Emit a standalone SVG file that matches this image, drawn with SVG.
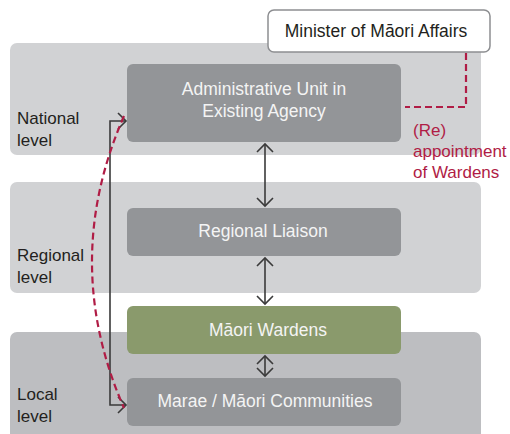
<svg xmlns="http://www.w3.org/2000/svg" width="510" height="434" viewBox="0 0 510 434">
<defs>
<style>
text{font-family:"Liberation Sans",Arial,sans-serif;font-size:17px}
.band{fill:#d1d2d4}
.band2{fill:#bdbec1}
.node{fill:#939598}
.green{fill:#8a9a6c}
.lbl{fill:#f4f4f4;text-anchor:middle;font-size:17.5px}
.lvl{fill:#231f20}
.red{fill:#b01c45}
.conn{fill:none;stroke:#3a3a3a;stroke-width:1.6}
.dash{fill:none;stroke:#b01c45;stroke-width:2.2;stroke-dasharray:7 4}
</style>
<marker id="ah" viewBox="-10 -10 20 20" refX="0" refY="0" markerWidth="20" markerHeight="20" markerUnits="userSpaceOnUse" orient="auto-start-reverse">
<path d="M-8,-8 L0,0 L-8,8" fill="none" stroke="#3a3a3a" stroke-width="1.6"/>
</marker>
</defs>
<g id="national-band"><rect class="band" x="10" y="43" width="471" height="112" rx="7"/><text class="lvl" x="17" y="124">National</text><text class="lvl" x="17" y="146">level</text></g>
<g id="regional-band"><rect class="band" x="10" y="182" width="471" height="111" rx="7"/><text class="lvl" x="17" y="261">Regional</text><text class="lvl" x="17" y="283">level</text></g>
<g id="local-band"><rect class="band2" x="10" y="332" width="471" height="110" rx="7"/><text class="lvl" x="17" y="400">Local</text><text class="lvl" x="17" y="422">level</text></g>
<g id="minister"><rect x="268" y="10" width="222" height="42" rx="6" fill="#fff" stroke="#8d8e91" stroke-width="1.5"/><text x="376" y="37" text-anchor="middle" fill="#231f20" style="font-size:17.5px">Minister of Māori Affairs</text></g>
<g id="admin"><rect class="node" x="127" y="64" width="274" height="78" rx="6"/><text class="lbl" x="264" y="95">Administrative Unit in</text><text class="lbl" x="264" y="117">Existing Agency</text></g>
<g id="regional-liaison"><rect class="node" x="127" y="208" width="274" height="48" rx="6"/><text class="lbl" x="263" y="237">Regional Liaison</text></g>
<g id="maori-wardens"><rect class="green" x="127" y="306" width="274" height="48" rx="6"/><text class="lbl" x="268" y="336">Māori Wardens</text></g>
<g id="marae"><rect class="node" x="127" y="378" width="274" height="48" rx="6"/><text class="lbl" x="265" y="407">Marae / Māori Communities</text></g>
<g id="appointment-label"><text class="red" x="413" y="136">(Re)</text><text class="red" x="413" y="157">appointment</text><text class="red" x="413" y="178">of Wardens</text></g>
<g id="connectors">
<path class="conn" d="M265,144 V206" marker-start="url(#ah)" marker-end="url(#ah)"/>
<path class="conn" d="M265,258 V304" marker-start="url(#ah)" marker-end="url(#ah)"/>
<path class="conn" d="M265,356 V376" marker-start="url(#ah)" marker-end="url(#ah)"/>
<path class="conn" d="M126,121 H110 V405 H126" marker-start="url(#ah)" marker-end="url(#ah)"/>
<path class="dash" d="M124,116 Q60,262 124,408"/>
<path class="dash" d="M466,53 V107 H405"/>
</g>
</svg>
